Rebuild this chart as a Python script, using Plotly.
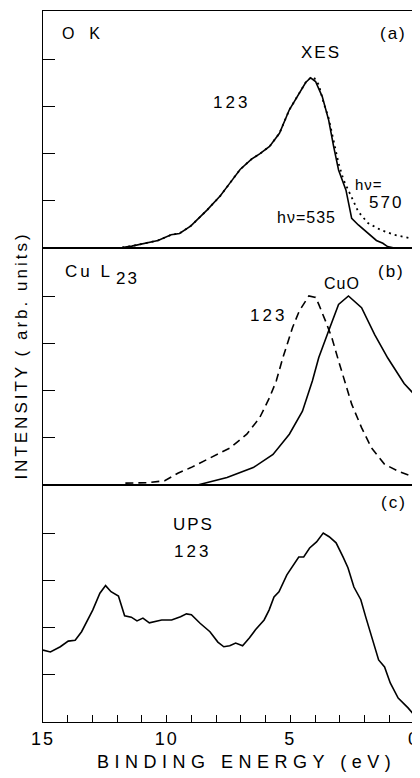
import plotly.graph_objects as go
from plotly.subplots import make_subplots

# ---------------- data ----------------
# (a) O K XES, hv = 535 (solid)
xes535_E = [11.8, 11.41, 10.35, 9.82, 9.48, 9.02, 8.36, 7.83, 7.43, 7.03, 6.57, 6.24, 5.84, 5.44, 5.04,
            4.64, 4.38, 4.18, 3.98, 3.71, 3.45, 3.25, 3.05, 2.75, 2.52, 2.25, 1.86, 1.52, 1.26, 1.07, 0.8, 0.0]
xes535_I = [0.01, 0.04, 0.16, 0.28, 0.31, 0.47, 0.81, 1.11, 1.39, 1.67, 1.89, 2.0, 2.16, 2.44, 2.94,
            3.29, 3.52, 3.62, 3.54, 3.22, 2.72, 2.16, 1.66, 1.23, 0.63, 0.49, 0.32, 0.16, 0.1, 0.03, 0.0, 0.0]
# (a) hv = 570 (dotted)
xes570_E = [11.8, 11.41, 10.35, 9.82, 9.48, 9.02, 8.36, 7.83, 7.43, 7.03, 6.57, 6.24, 5.84, 5.44, 5.04,
            4.64, 4.38, 4.18, 4.05, 3.85, 3.65, 3.45, 3.25, 3.05, 2.85, 2.52, 2.25, 1.86, 1.33, 0.8, 0.27, 0.0]
xes570_I = [0.01, 0.04, 0.16, 0.28, 0.31, 0.47, 0.81, 1.11, 1.39, 1.67, 1.89, 2.0, 2.16, 2.44, 2.94,
            3.29, 3.52, 3.62, 3.63, 3.47, 3.08, 2.76, 2.30, 1.80, 1.45, 1.09, 0.77, 0.53, 0.38, 0.28, 0.21, 0.19]

# (b) Cu L23, 123 (dashed)
cu123_E = [11.67, 10.75, 10.08, 9.55, 9.02, 8.22, 7.43, 6.76, 6.24, 5.84, 5.57, 5.3, 4.91, 4.64, 4.25,
           3.98, 3.85, 3.58, 3.32, 3.05, 2.79, 2.52, 2.12, 1.72, 1.19, 0.66, 0.13, 0.0]
cu123_I = [0.04, 0.05, 0.09, 0.25, 0.37, 0.58, 0.79, 1.08, 1.43, 1.86, 2.21, 2.71, 3.35, 3.70, 4.02,
           3.99, 3.84, 3.49, 3.13, 2.64, 2.21, 1.72, 1.22, 0.79, 0.44, 0.30, 0.19, 0.17]
# (b) CuO (solid)
cuo_E = [8.75, 8.36, 7.56, 6.5, 5.7, 5.04, 4.51, 4.11, 3.85, 3.45, 3.05, 2.65, 2.12, 1.59, 1.06, 0.4, 0.0]
cuo_I = [0.0, 0.05, 0.16, 0.37, 0.65, 1.08, 1.57, 2.21, 2.71, 3.28, 3.84, 4.02, 3.77, 3.2, 2.7, 2.16, 1.93]

# (c) UPS 123
ups_E = [15.0, 14.7, 14.3, 13.98, 13.7, 13.44, 12.99, 12.7, 12.47, 12.25, 11.95, 11.7, 11.43, 11.2, 10.96,
         10.7, 10.2, 9.8, 9.44, 9.2, 9.0, 8.65, 8.25, 7.93, 7.69, 7.45, 7.21, 6.93, 6.65, 6.41,
         6.06, 5.86, 5.66, 5.46, 5.14, 4.86, 4.66, 4.46, 4.22, 3.94, 3.67, 3.43, 3.15, 2.87, 2.67,
         2.43, 2.15, 1.95, 1.67, 1.43, 1.19, 0.96, 0.64, 0.24, 0.0]
ups_I = [1.53, 1.49, 1.6, 1.72, 1.74, 1.92, 2.38, 2.74, 2.9, 2.77, 2.68, 2.26, 2.23, 2.15, 2.21,
         2.11, 2.17, 2.17, 2.24, 2.3, 2.28, 2.1, 1.92, 1.7, 1.6, 1.62, 1.68, 1.62, 1.79, 1.96,
         2.17, 2.38, 2.66, 2.77, 3.13, 3.34, 3.51, 3.51, 3.70, 3.83, 4.02, 3.94, 3.81, 3.51, 3.28,
         2.87, 2.6, 2.23, 1.74, 1.32, 1.17, 0.83, 0.51, 0.3, 0.15]

x_tickvals = [15, 10, 5, 0]
x_ticktext = ["15", "10", "5", "0"]
y_tickvals = [1, 2, 3, 4]

x_title = "BINDING ENERGY (eV)"
y_title = "INTENSITY ( arb. units)"

# ---------------- figure ----------------
FONT = "Liberation Sans, Arial, Helvetica, sans-serif"
LW = 1.6
AX = 1.4


def sp(text, ls):
    return f'<span style="letter-spacing:{ls}px">{text}</span>'


fig = make_subplots(rows=3, cols=1, shared_xaxes=True, vertical_spacing=0)

fig.add_trace(go.Scatter(x=xes570_E, y=xes570_I, mode="lines",
                         line=dict(color="black", width=1.8, dash="2px,4px")), row=1, col=1)
fig.add_trace(go.Scatter(x=xes535_E, y=xes535_I, mode="lines",
                         line=dict(color="black", width=LW)), row=1, col=1)
fig.add_trace(go.Scatter(x=cu123_E, y=cu123_I, mode="lines",
                         line=dict(color="black", width=LW, dash="8px,5px")), row=2, col=1)
fig.add_trace(go.Scatter(x=cuo_E, y=cuo_I, mode="lines",
                         line=dict(color="black", width=LW)), row=2, col=1)
fig.add_trace(go.Scatter(x=ups_E, y=ups_I, mode="lines",
                         line=dict(color="black", width=LW)), row=3, col=1)

for r in (1, 2, 3):
    fig.update_xaxes(range=[15, 0], showline=True, mirror=True, linecolor="black", linewidth=AX,
                     showgrid=False, zeroline=False, row=r, col=1)
    fig.update_yaxes(range=[0, 5.04], showline=True, linecolor="black", linewidth=AX,
                     showgrid=False, zeroline=False, ticks="inside", ticklen=12, tickwidth=1.4,
                     tickcolor="black", tickvals=y_tickvals, showticklabels=False, row=r, col=1)

fig.update_xaxes(showticklabels=False, ticks="", row=1, col=1)
fig.update_xaxes(showticklabels=False, ticks="", row=2, col=1)
fig.update_xaxes(showticklabels=True, ticks="inside", ticklen=7, tickwidth=1.4, tickcolor="black",
                 tickvals=x_tickvals, ticktext=[sp(t, 2) for t in x_ticktext],
                 ticklabeloverflow="allow",
                 tickfont=dict(family=FONT, size=18, color="black"),
                 minor=dict(ticks="inside", ticklen=7, tickwidth=1.4, tickcolor="black", dtick=1, tick0=0),
                 row=3, col=1)

ann = []


def add(text, x, y, yref, size=16, ls=2, xanchor="center"):
    ann.append(dict(text=sp(text, ls), x=x, y=y, xref=yref.replace("y", "x"), yref=yref,
                    showarrow=False, xanchor=xanchor, yanchor="middle",
                    font=dict(family=FONT, size=size, color="black")))


# panel a
add("O  K", 14.32, 4.57, "y", size=16, ls=2, xanchor="left")
add("(a)", 0.84, 4.57, "y", size=17, ls=2)
add("XES", 3.78, 4.15, "y", size=17, ls=2)
add("123", 7.36, 3.09, "y", size=17, ls=3)
add("hν=", 1.83, 1.34, "y", size=15, ls=1)
add("570", 1.15, 0.96, "y", size=17, ls=2)
add("hν=535", 4.34, 0.64, "y", size=16, ls=1)
# panel b
add("Cu L", 14.2, 4.53, "y2", size=17, ls=3, xanchor="left")
add("23", 12.14, 4.40, "y2", size=17, ls=2, xanchor="left")
add("(b)", 0.92, 4.55, "y2", size=17, ls=2)
add("CuO", 2.9, 4.28, "y2", size=16, ls=1)
add("123", 5.9, 3.6, "y2", size=17, ls=3)
# panel c
add("(c)", 0.8, 4.66, "y3", size=17, ls=2)
add("UPS", 8.9, 4.19, "y3", size=17, ls=2)
add("123", 8.95, 3.62, "y3", size=17, ls=3)

# axis titles
ann.append(dict(text=sp(x_title, 5.5), x=0.549, y=-0.056, xref="paper", yref="paper",
                showarrow=False, xanchor="center", yanchor="middle",
                font=dict(family=FONT, size=18, color="black")))
ann.append(dict(text=sp(y_title, 3), x=-0.058, y=0.516, xref="paper", yref="paper",
                showarrow=False, xanchor="center", yanchor="middle", textangle=-90,
                font=dict(family=FONT, size=17, color="black")))

# the page body adds an 8px offset, so the figure is 8px smaller and shifted margins
fig.update_layout(width=412, height=770, margin=dict(l=35, r=0, t=3, b=56),
                  paper_bgcolor="white", plot_bgcolor="white", showlegend=False,
                  annotations=ann)

fig.write_html("out.html")
